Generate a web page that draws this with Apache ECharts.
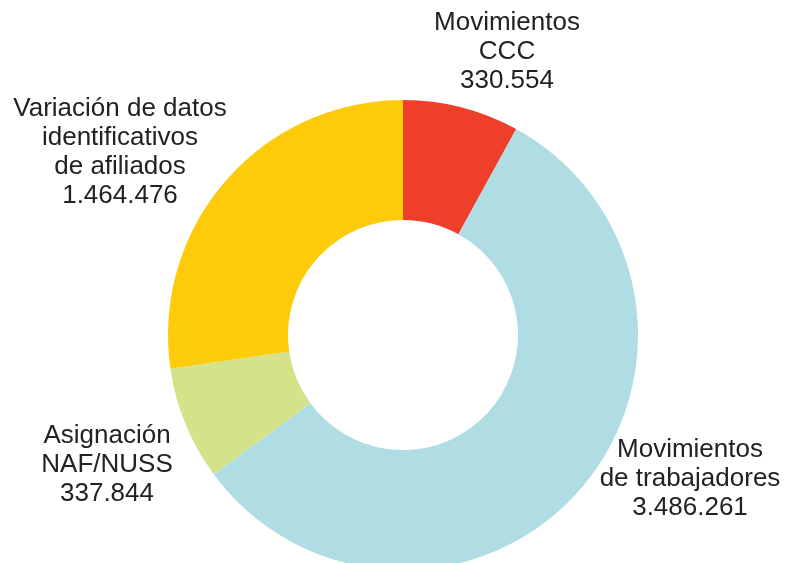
<!DOCTYPE html>
<html>
<head>
<meta charset="utf-8">
<script src="https://cdn.jsdelivr.net/npm/echarts@6/dist/echarts.min.js"></script>
<style>
  html, body { margin: 0; padding: 0; background: #fff; }
  #chart { width: 791px; height: 563px; }
</style>
</head>
<body>
<div id="chart"></div>
<script>
// categorías (con saltos de línea como en el original)
const categories = [
  'Movimientos\nCCC',
  'Movimientos\nde trabajadores',
  'Asignación\nNAF/NUSS',
  'Variación de datos\nidentificativos\nde afiliados'
];
// valores que muestran las etiquetas
const labelValues = ['330.554', '3.486.261', '337.844', '1.464.476'];
// el original no dibuja los arcos proporcionales a las cifras:
// porcentaje del anillo que ocupa cada sector, medido en la imagen
const arcShares = [8.0, 56.9, 7.8, 27.3];

const colors = ['#ee3f2b', '#afdde3', '#d4e28a', '#fecb0b'];
// centro de cada bloque de texto
const labelPos = [[507, 52], [690, 479], [107, 465], [120, 152]];

const chartDom = document.getElementById('chart');
const myChart = echarts.init(chartDom);

const option = {
  animation: false,
  series: [
    {
      type: 'pie',
      center: [403, 335],
      radius: [115, 235],
      startAngle: 90,
      clockwise: true,
      avoidLabelOverlap: false,
      itemStyle: { borderWidth: 0 },
      label: {
        show: true,
        position: 'outside',
        color: '#222',
        fontFamily: 'Liberation Sans, Arial, sans-serif',
        fontSize: 26,
        lineHeight: 29,
        align: 'center',
        formatter: p => categories[p.dataIndex] + '\n' + labelValues[p.dataIndex]
      },
      labelLine: { show: false },
      labelLayout: p => ({
        x: labelPos[p.dataIndex][0],
        y: labelPos[p.dataIndex][1],
        align: 'center',
        verticalAlign: 'middle'
      }),
      emphasis: { disabled: true },
      data: categories.map((c, i) => ({
        name: c,
        value: arcShares[i],
        itemStyle: { color: colors[i] }
      }))
    }
  ]
};

option && myChart.setOption(option);
</script>
</body>
</html>
